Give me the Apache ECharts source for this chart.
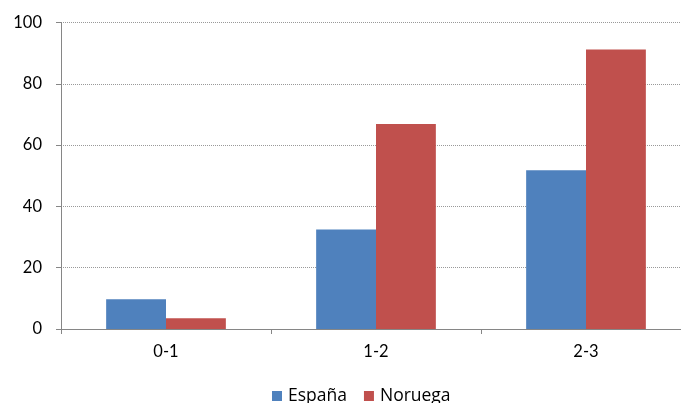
<!DOCTYPE html>
<html><head><meta charset="utf-8">
<script src="https://cdn.jsdelivr.net/npm/echarts@6/dist/echarts.min.js"></script>
<style>html,body{margin:0;padding:0;background:#fff;overflow:hidden;width:681px;height:403px}#c{width:692px;height:403px}</style>
</head><body><div id="c"></div>
<script>
const categories = ['0-1', '1-2', '2-3'];
const espana = [9.7, 32.5, 51.8];
const noruega = [3.5, 66.9, 91.2];
const yTicks = [0, 20, 40, 60, 80, 100];

const font = 'Lato, "Open Sans", sans-serif';
const chart = echarts.init(document.getElementById('c'));
chart.setOption({
  animation: false,
  grid: { left: 61, right: 1, top: 22.5, height: 306.5, containLabel: false },
  legend: {
    top: 387, left: 272, itemWidth: 10, itemHeight: 10, itemGap: 17,
    icon: 'rect', padding: 0,
    textStyle: { fontFamily: '"Open Sans", sans-serif', fontSize: 17.5, lineHeight: 18, color: '#000', padding: [0, 0, 0, 1] },
    data: ['España', 'Noruega']
  },
  xAxis: {
    type: 'category', data: categories,
    axisLine: { lineStyle: { color: '#868686', width: 1 } },
    axisTick: { show: true, length: 5, alignWithLabel: false, lineStyle: { color: '#868686' } },
    axisLabel: { fontFamily: font, fontSize: 16.5, color: '#000', margin: 14 }
  },
  yAxis: {
    type: 'value', min: 0, max: 100, interval: 20,
    axisLine: { show: true, lineStyle: { color: '#868686', width: 1 } },
    axisTick: { show: true, length: 5, lineStyle: { color: '#868686' } },
    axisLabel: { fontFamily: font, fontSize: 16.5, color: '#000', margin: 19,
      formatter: v => yTicks.includes(v) ? String(v) : '' },
    splitLine: { lineStyle: { color: '#999', type: [1, 1], width: 1 } }
  },
  series: [
    { name: 'España', type: 'bar', data: espana, barGap: '0%', barCategoryGap: '43%',
      itemStyle: { color: '#4F81BD' } },
    { name: 'Noruega', type: 'bar', data: noruega, barGap: '0%', barCategoryGap: '43%',
      itemStyle: { color: '#C0504D' } }
  ]
});
</script></body></html>
